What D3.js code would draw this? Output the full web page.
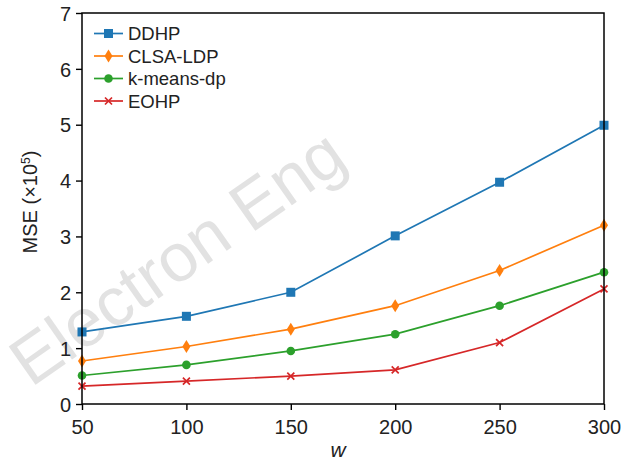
<!DOCTYPE html>
<html>
<head>
<meta charset="utf-8">
<script src="https://cdn.jsdelivr.net/npm/d3@7"></script>
<style>
  html, body { margin: 0; padding: 0; background: #fff; }
  svg { display: block; font-family: "Liberation Sans", Arial, sans-serif; }
</style>
</head>
<body>
<svg id="chart" width="631" height="463"></svg>
<script>
// Window sizes w on the x axis
const wValues = [50, 100, 150, 200, 250, 300];
// MSE (x10^5) per method
const ddhp     = [1.29, 1.57, 2.00, 3.01, 3.97, 4.99];
const clsaLdp  = [0.77, 1.03, 1.34, 1.76, 2.39, 3.20];
const kmeansDp = [0.51, 0.70, 0.95, 1.25, 1.76, 2.36];
const eohp     = [0.32, 0.41, 0.50, 0.61, 1.10, 2.06];
const seriesNames = ["DDHP", "CLSA-LDP", "k-means-dp", "EOHP"];
const yTicks = [0, 1, 2, 3, 4, 5, 6, 7];

const series = [
  { name: seriesNames[0], values: ddhp,     color: "#1f77b4", marker: "square" },
  { name: seriesNames[1], values: clsaLdp,  color: "#ff7f0e", marker: "diamond" },
  { name: seriesNames[2], values: kmeansDp, color: "#2ca02c", marker: "circle" },
  { name: seriesNames[3], values: eohp,     color: "#d62728", marker: "cross" }
];

const svg = d3.select("#chart");
const margin = { left: 82, right: 27, top: 13, bottom: 59 };
const width = 631, height = 463;
const x = d3.scaleLinear().domain([50, 300]).range([margin.left, width - margin.right]);
const y = d3.scaleLinear().domain([0, 7]).range([height - margin.bottom, margin.top]);

// Faint journal watermark behind the data
svg.append("text")
  .attr("transform", "translate(31,388) rotate(-35)")
  .attr("fill", "#e2e2e2")
  .style("font-size", "68px")
  .text("Electron Eng");

// Axes
const xAxis = d3.axisBottom(x).tickValues(wValues).tickSize(6).tickPadding(5).tickFormat(d3.format("d"));
const yAxis = d3.axisLeft(y).tickValues(yTicks).tickSize(6).tickPadding(5).tickFormat(d3.format("d"));

const gx = svg.append("g").attr("transform", `translate(0,${y(0)})`).call(xAxis);
const gy = svg.append("g").attr("transform", `translate(${x(50)},0)`).call(yAxis);
[gx, gy].forEach(g => {
  g.select(".domain").remove();
  g.selectAll(".tick line").attr("stroke", "#000").attr("stroke-width", 1.4);
  g.selectAll(".tick text").attr("fill", "#222").style("font-size", "20px").style("font-family", "\"Liberation Sans\", Arial, sans-serif");
});
gy.selectAll(".tick text").attr("dy", "0.36em");
gx.selectAll(".tick text").attr("dy", "0.95em");

// Lines
const line = d3.line().x((d, i) => x(wValues[i])).y(d => y(d));
series.forEach(s => {
  svg.append("path").datum(s.values)
    .attr("fill", "none").attr("stroke", s.color).attr("stroke-width", 1.7)
    .attr("d", line);
});

// Marker drawing
function drawMarker(g, type, cx, cy, color) {
  if (type === "square") {
    g.append("rect").attr("x", cx - 4.5).attr("y", cy - 4.5).attr("width", 9).attr("height", 9).attr("fill", color);
  } else if (type === "diamond") {
    g.append("path").attr("d", `M${cx},${cy - 6.5}L${cx + 4},${cy}L${cx},${cy + 6.5}L${cx - 4},${cy}Z`).attr("fill", color);
  } else if (type === "circle") {
    g.append("circle").attr("cx", cx).attr("cy", cy).attr("r", 4.3).attr("fill", color);
  } else if (type === "cross") {
    g.append("path").attr("d", `M${cx - 3.5},${cy - 3.5}L${cx + 3.5},${cy + 3.5}M${cx - 3.5},${cy + 3.5}L${cx + 3.5},${cy - 3.5}`)
      .attr("stroke", color).attr("stroke-width", 1.7).attr("fill", "none");
  }
}

series.forEach(s => {
  const g = svg.append("g");
  s.values.forEach((v, i) => drawMarker(g, s.marker, x(wValues[i]), y(v), s.color));
});

// Frame around the plot area
svg.append("rect")
  .attr("x", x(50)).attr("y", y(7))
  .attr("width", x(300) - x(50)).attr("height", y(0) - y(7))
  .attr("fill", "none").attr("stroke", "#000").attr("stroke-width", 1.5);

// Legend
const legend = svg.append("g");
series.forEach((s, i) => {
  const ly = 33.5 + i * 22.5;
  legend.append("line").attr("x1", 94).attr("x2", 123).attr("y1", ly).attr("y2", ly)
    .attr("stroke", s.color).attr("stroke-width", 1.7);
  drawMarker(legend, s.marker, 108.5, ly, s.color);
  legend.append("text").attr("x", 128).attr("y", ly).attr("dy", "0.36em")
    .attr("fill", "#222").style("font-size", "18.5px").text(s.name);
});

// Axis titles
svg.append("text")
  .attr("transform", "translate(37,202) rotate(-90)")
  .attr("text-anchor", "middle").attr("fill", "#222").style("font-size", "20px")
  .html("MSE (\u00d710<tspan dy='-7' style='font-size:12px'>5</tspan><tspan dy='7'>)</tspan>");

svg.append("text")
  .attr("x", 338).attr("y", 457)
  .attr("text-anchor", "middle").attr("fill", "#222")
  .style("font-size", "21px").style("font-style", "italic")
  .text("w");
</script>
</body>
</html>
